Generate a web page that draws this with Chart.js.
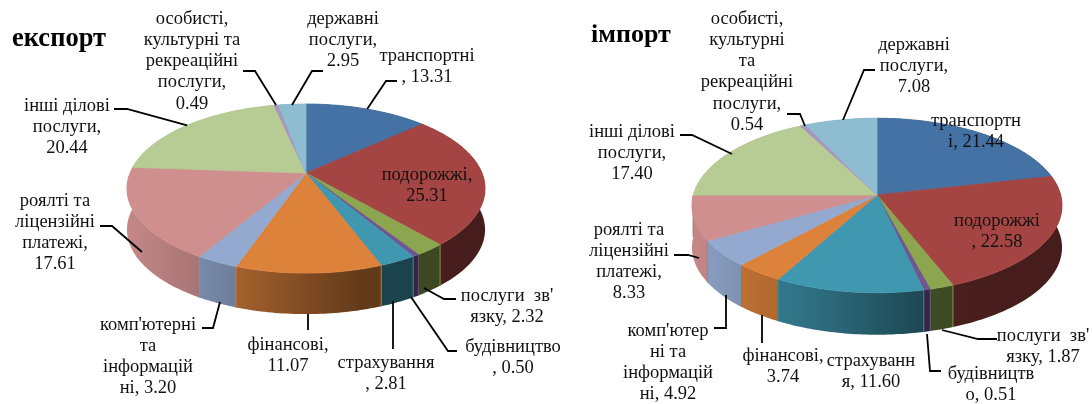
<!DOCTYPE html>
<html lang="uk">
<head>
<meta charset="utf-8">
<style>
html,body{margin:0;padding:0;background:#fff;width:1092px;height:404px;overflow:hidden}
canvas{position:absolute;top:0}
</style>
<script src="https://cdn.jsdelivr.net/npm/chart.js@4/dist/chart.umd.js"></script>
</head>
<body>
<canvas id="exp" width="566" height="404" style="left:0"></canvas>
<canvas id="imp" width="526" height="404" style="left:566px"></canvas>
<script>
const categories = ["транспортні","подорожжі","послуги зв'язку","будівництво","страхування","фінансові","комп'ютерні та інформаційні","роялті та ліцензійні платежі","інші ділові послуги","особисті, культурні та рекреаційні послуги","державні послуги"];
const exportValues = [13.31,25.31,2.32,0.50,2.81,11.07,3.20,17.61,20.44,0.49,2.95];
const importValues = [21.44,22.58,1.87,0.51,11.60,3.74,4.92,8.33,17.40,0.54,7.08];
const sliceColors = ["#4472A4","#A54543","#8BA64F","#6F5592","#3F98B0","#DC823B","#93A9CF","#CE8F8E","#B6CC94","#A898BF","#8EBDD1"];
const wallShade = [[0,.95],[.3,.75],[.5,.58],[.65,.45],[1,.42]];

const exportLabelLines = [["транспортні",", {v}"],["подорожжі,","{v}"],["послуги  зв'","язку, {v}"],["будівництво",", {v}"],["страхування",", {v}"],["фінансові,","{v}"],["комп'ютерні","та","інформацій","ні, {v}"],["роялті та","ліцензійні","платежі,","{v}"],["інші ділові","послуги,","{v}"],["особисті,","культурні та","рекреаційні","послуги,","{v}"],["державні","послуги,","{v}"]];
const importLabelLines = [["транспортн","і, {v}"],["подорожжі",", {v}"],["послуги  зв'","язку, {v}"],["будівництв","о, {v}"],["страхуванн","я, {v}"],["фінансові,","{v}"],["комп'ютер","ні та","інформацій","ні, {v}"],["роялті та","ліцензійні","платежі,","{v}"],["інші ділові","послуги,","{v}"],["особисті,","культурні","та","рекреаційні","послуги,","{v}"],["державні","послуги,","{v}"]];

// label anchor: [centre x, first line y]
const exportLabelPos = [[427,56],[427,175],[507,296],[513,347],[386,363],[288,345],[148,325],[55,201],[67,106],[192,19],[343,19]];
const importLabelPos = [[976,121],[997,221],[1043,336],[991,374],[871,361],[783,356],[668,331],[629,230],[632,132],[747,19],[914,45]];
// leader lines: points from the text towards the slice; "end" = rim (0) or wall foot (1), or a fixed end point
const exportLeaders = [{p:[[397,81],[386,81]],end:0},null,{p:[[456,299],[444,299]],end:[424,288]},{p:[[457,351],[448,351]],end:[411,297]},{p:[[393,349]],end:[393,301]},{p:[[308,330]],end:[308,314]},{p:[[202,328],[213,328]],end:[220,302]},{p:[[100,226],[112,226]],end:[142,252]},{p:[[114,109],[127,109]],end:0},{p:[[243,71],[255,71]],end:[276,105]},{p:[[323,71],[312,71]],end:[292,105]}];
const importLeaders = [null,null,{p:[[997,339],[978,339]],end:[942,330]},{p:[[941,371],[930,371]],end:[927,334]},null,{p:[[762,343]],end:[762,315]},{p:[[714,328],[726,328]],end:[726,295]},{p:[[674,255],[688,255]],end:[699,258]},{p:[[680,135],[692,135]],end:[732,154]},{p:[[787,114],[800,114]],end:[805,126]},{p:[[875,70],[864,70]],end:[843,120]}];

const exportGeom = {off:0, cx:306, cy:173, a:176, b:81.7, k:.184, depth:41, title:"експорт", tx:12, ty:46, tsize:26.5, lines:exportLabelLines, pos:exportLabelPos, leaders:exportLeaders};
const importGeom = {off:566, cx:877, cy:195, a:183.7, b:86, k:.12, depth:42, title:"імпорт", tx:591, ty:42, tsize:26, lines:importLabelLines, pos:importLabelPos, leaders:importLeaders};

const FONT = '"Liberation Serif","Times New Roman",serif';
function proj(g,th){const u=Math.cos(th),v=Math.sin(th),w=1/(1-g.k*v);return [g.cx+g.a*u*w,g.cy+g.b*v*w];}
function rim(g,s,e){const n=Math.max(2,Math.ceil((e-s)/(Math.PI/180))),p=[];for(let i=0;i<=n;i++)p.push(proj(g,s+(e-s)*i/n));return p;}
function shade(hex,f){const n=parseInt(hex.slice(1),16);return `rgb(${Math.round((n>>16)*f)},${Math.round(((n>>8)&255)*f)},${Math.round((n&255)*f)})`;}

// slices are still the library's arc elements; only their drawing is projected
Chart.ArcElement.prototype.draw = function(ctx){
  const g = ctx.canvas.__geom;
  const {startAngle:s,endAngle:e} = this;
  const p = rim(g,s,e);
  ctx.save();
  ctx.translate(-g.off,0);
  ctx.beginPath();
  ctx.moveTo(g.cx,g.cy);
  p.forEach(q=>ctx.lineTo(q[0],q[1]));
  ctx.closePath();
  ctx.fillStyle = this.options.backgroundColor;
  ctx.fill();
  ctx.lineWidth = .8;
  ctx.strokeStyle = this.options.backgroundColor;
  ctx.stroke();
  ctx.restore();
};

const pie3d = {
  id:'pie3d',
  beforeDatasetsDraw(chart){
    const g = chart.canvas.__geom, ctx = chart.ctx;
    const arcs = chart.getDatasetMeta(0).data.slice().sort((x,y)=>
      Math.sin((x.startAngle+x.endAngle)/2)-Math.sin((y.startAngle+y.endAngle)/2));
    const rx = g.a/Math.sqrt(1-g.k*g.k);
    ctx.save();
    ctx.translate(-g.off,0);
    arcs.forEach(el=>{
      const p = rim(g,el.startAngle,el.endAngle);
      const base = el.options.backgroundColor;
      const gr = ctx.createLinearGradient(g.cx-rx,0,g.cx+rx,0);
      wallShade.forEach(s=>gr.addColorStop(s[0],shade(base,s[1])));
      ctx.beginPath();
      p.forEach((q,i)=>i?ctx.lineTo(q[0],q[1]):ctx.moveTo(q[0],q[1]));
      for(let i=p.length-1;i>=0;i--)ctx.lineTo(p[i][0],p[i][1]+g.depth);
      ctx.closePath();
      ctx.fillStyle = gr;
      ctx.fill();
      ctx.lineWidth = 1;
      ctx.strokeStyle = shade(base,.85);
      const a=p[0], b=p[p.length-1];
      ctx.beginPath();
      if(Math.sin(el.startAngle)>0){ctx.moveTo(a[0],a[1]);ctx.lineTo(a[0],a[1]+g.depth);}
      if(Math.sin(el.endAngle)>0){ctx.moveTo(b[0],b[1]);ctx.lineTo(b[0],b[1]+g.depth);}
      ctx.stroke();
    });
    ctx.restore();
  },
  afterDatasetsDraw(chart){
    const g = chart.canvas.__geom, ctx = chart.ctx;
    const arcs = chart.getDatasetMeta(0).data;
    const vals = chart.data.datasets[0].data;
    ctx.save();
    ctx.translate(-g.off,0);
    ctx.strokeStyle='#000'; ctx.lineWidth=1.8; ctx.lineJoin='miter';
    arcs.forEach((el,i)=>{
      const L=g.leaders[i]; if(!L) return;
      const m=proj(g,(el.startAngle+el.endAngle)/2);
      const end=Array.isArray(L.end)?L.end:[m[0],m[1]+(L.end?g.depth:0)];
      ctx.beginPath();
      L.p.forEach((q,j)=>j?ctx.lineTo(q[0],q[1]):ctx.moveTo(q[0],q[1]));
      ctx.lineTo(end[0],end[1]);
      ctx.stroke();
    });
    ctx.fillStyle='#111';
    ctx.textAlign='center'; ctx.textBaseline='middle';
    ctx.font=`18.5px ${FONT}`;
    g.lines.forEach((ls,i)=>{
      const [x,y]=g.pos[i];
      ls.forEach((t,j)=>ctx.fillText(t.replace('{v}',vals[i].toFixed(2)),x,y+j*21.2));
    });
    ctx.fillStyle='#000';
    ctx.textAlign='left'; ctx.textBaseline='alphabetic';
    ctx.font=`bold ${g.tsize}px ${FONT}`;
    ctx.fillText(g.title,g.tx,g.ty);
    ctx.restore();
  }
};

function makeChart(id,g,values){
  const cv=document.getElementById(id);
  cv.__geom=g;
  return new Chart(cv,{
    type:'pie',
    data:{labels:categories,datasets:[{data:values,backgroundColor:sliceColors,borderWidth:0,clip:false}]},
    options:{responsive:false,animation:false,layout:{padding:0},plugins:{legend:{display:false},tooltip:{enabled:false},title:{display:false}}},
    plugins:[pie3d]
  });
}
makeChart('exp',exportGeom,exportValues);
makeChart('imp',importGeom,importValues);
</script>
</body>
</html>
